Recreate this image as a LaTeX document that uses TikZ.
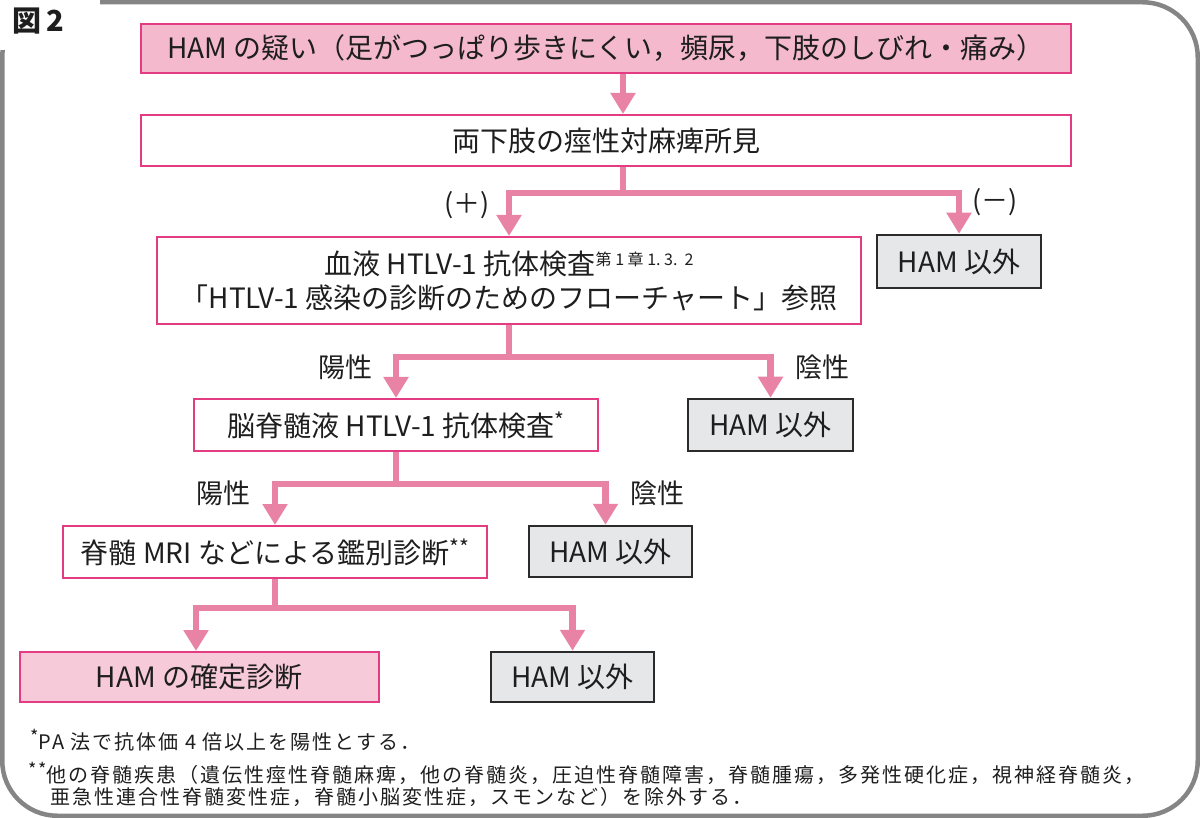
\documentclass[tikz,border=0pt]{standalone}
\usepackage{fontspec}
\setmainfont{Noto Sans CJK JP}
\newfontfamily\jp{Noto Sans CJK JP}
\newfontfamily\jpfn[LetterSpace=10]{Noto Sans CJK JP}
\usetikzlibrary{arrows.meta}
\definecolor{framec}{HTML}{858585}
\definecolor{pinkfill}{HTML}{F4B9CD}
\definecolor{pinkfilltwo}{HTML}{F6CAD8}
\definecolor{magentac}{HTML}{E43C82}
\definecolor{arrowc}{HTML}{E983A6}
\definecolor{grayfill}{HTML}{E6E7E8}
\definecolor{grayline}{HTML}{2B2B2B}
\definecolor{txt}{HTML}{1E1E1E}
\newcommand{\supsm}[1]{\raisebox{9pt}{\fontsize{16}{16}\selectfont #1}}
\newcommand{\supstar}[1]{\raisebox{8pt}{\fontsize{21}{21}\selectfont #1}}
\newcommand{\fnsup}[1]{\raisebox{6pt}{\fontsize{18}{18}\selectfont #1}}
\begin{document}
\begin{tikzpicture}[x=1pt,y=-1pt,
  every node/.style={text=txt, inner sep=0pt, font=\jp\fontsize{28}{34}\selectfont},
  mainbox/.style={draw=magentac, line width=2pt, fill=white},
  pinkbox/.style={draw=magentac, line width=2pt, fill=pinkfill},
  graybox/.style={draw=grayline, line width=2.5pt, fill=grayfill},
  stem/.style={draw=arrowc, line width=6.5pt},
  flow/.style={draw=arrowc, line width=6.5pt, -{Triangle[width=24pt,length=21pt]}},
  lbl/.style={font=\jp\fontsize{27}{30}\selectfont},
  fn/.style={anchor=west, font=\jpfn\fontsize{20}{24}\selectfont}]
\useasboundingbox (0,0) rectangle (1200,818);
% frame
\draw[framec, line width=4.5pt, rounded corners=55pt] (2.25,2.25) rectangle (1197.75,815.75);
\fill[white] (0,0) rectangle (100,50);
\node[font=\jp\bfseries\fontsize{29}{31}\selectfont] (fig) at (38,21) {図\,2};
% boxes
\node[pinkbox, minimum width=930, minimum height=49] (b1) at (606,48.5)
  {HAM の疑い（足がつっぱり歩きにくい，頻尿，下肢のしびれ・痛み）};
\node[mainbox, minimum width=930, minimum height=51] (b2) at (606,140.5)
  {両下肢の痙性対麻痺所見};
\node[mainbox, minimum width=704, minimum height=87, align=center] (b3) at (509,280.5)
  {血液 HTLV-1 抗体検査\supsm{第\ 1\ 章\ 1.\ 3.\ \ 2}\\「HTLV-1 感染の診断のためのフローチャート」参照};
\node[graybox, minimum width=164, minimum height=53] (g1) at (959,261.5) {HAM 以外};
\node[mainbox, minimum width=404, minimum height=52] (b4) at (396,425)
  {脳脊髄液 HTLV-1 抗体検査\supstar{*}};
\node[graybox, minimum width=165, minimum height=52] (g2) at (770.5,425) {HAM 以外};
\node[mainbox, minimum width=424, minimum height=52] (b5) at (275,552)
  {脊髄 MRI などによる鑑別診断\supstar{**}};
\node[graybox, minimum width=163, minimum height=51] (g3) at (610.5,551.5) {HAM 以外};
\node[draw=magentac, line width=2pt, fill=pinkfilltwo, minimum width=359, minimum height=50] (b6) at (199,677)
  {HAM の確定診断};
\node[graybox, minimum width=163, minimum height=50] (g4) at (572.5,677) {HAM 以外};
% labels
\node[lbl] (lp1) at (467,205) {(＋)};
\node[lbl] (lm1) at (995,202) {(－)};
\node[lbl] (lp2) at (345,367) {陽性};
\node[lbl] (lm2) at (822,367) {陰性};
\node[lbl] (lp3) at (223,493) {陽性};
\node[lbl] (lm3) at (657,493) {陰性};
% connectors
\coordinate (j1) at (623,193);
\coordinate (j2) at (509,357);
\coordinate (j3) at (396,484);
\coordinate (j4) at (275,608);
\draw[flow] (b1.south -| j1) -- (b2.north -| j1);
\draw[stem] (b2.south -| j1) -- (j1);
\draw[flow] (j1) -| (b3.north);
\draw[flow] (j1) -| (g1.north);
\draw[stem] (b3.south -| j2) -- (j2);
\draw[flow] (j2) -| (b4.north);
\draw[flow] (j2) -| (g2.north);
\draw[stem] (b4.south -| j3) -- (j3);
\draw[flow] (j3) -| (b5.north);
\draw[flow] (j3) -| ([xshift=-5pt]g3.north);
\draw[stem] (b5.south -| j4) -- (j4);
\draw[flow] (j4) -| ([xshift=-3pt]b6.north);
\draw[flow] (j4) -| (g4.north);
% footnotes
\node[fn] (f1) at (30,740) {\fnsup{*}PA 法で抗体価 4 倍以上を陽性とする．};
\node[fn] (f2) at (28,773) {\fnsup{**}他の脊髄疾患（遺伝性痙性脊髄麻痺，他の脊髄炎，圧迫性脊髄障害，脊髄腫瘍，多発性硬化症，視神経脊髄炎，};
\node[fn] (f3) at (50,797) {亜急性連合性脊髄変性症，脊髄小脳変性症，スモンなど）を除外する．};
\end{tikzpicture}
\end{document}
